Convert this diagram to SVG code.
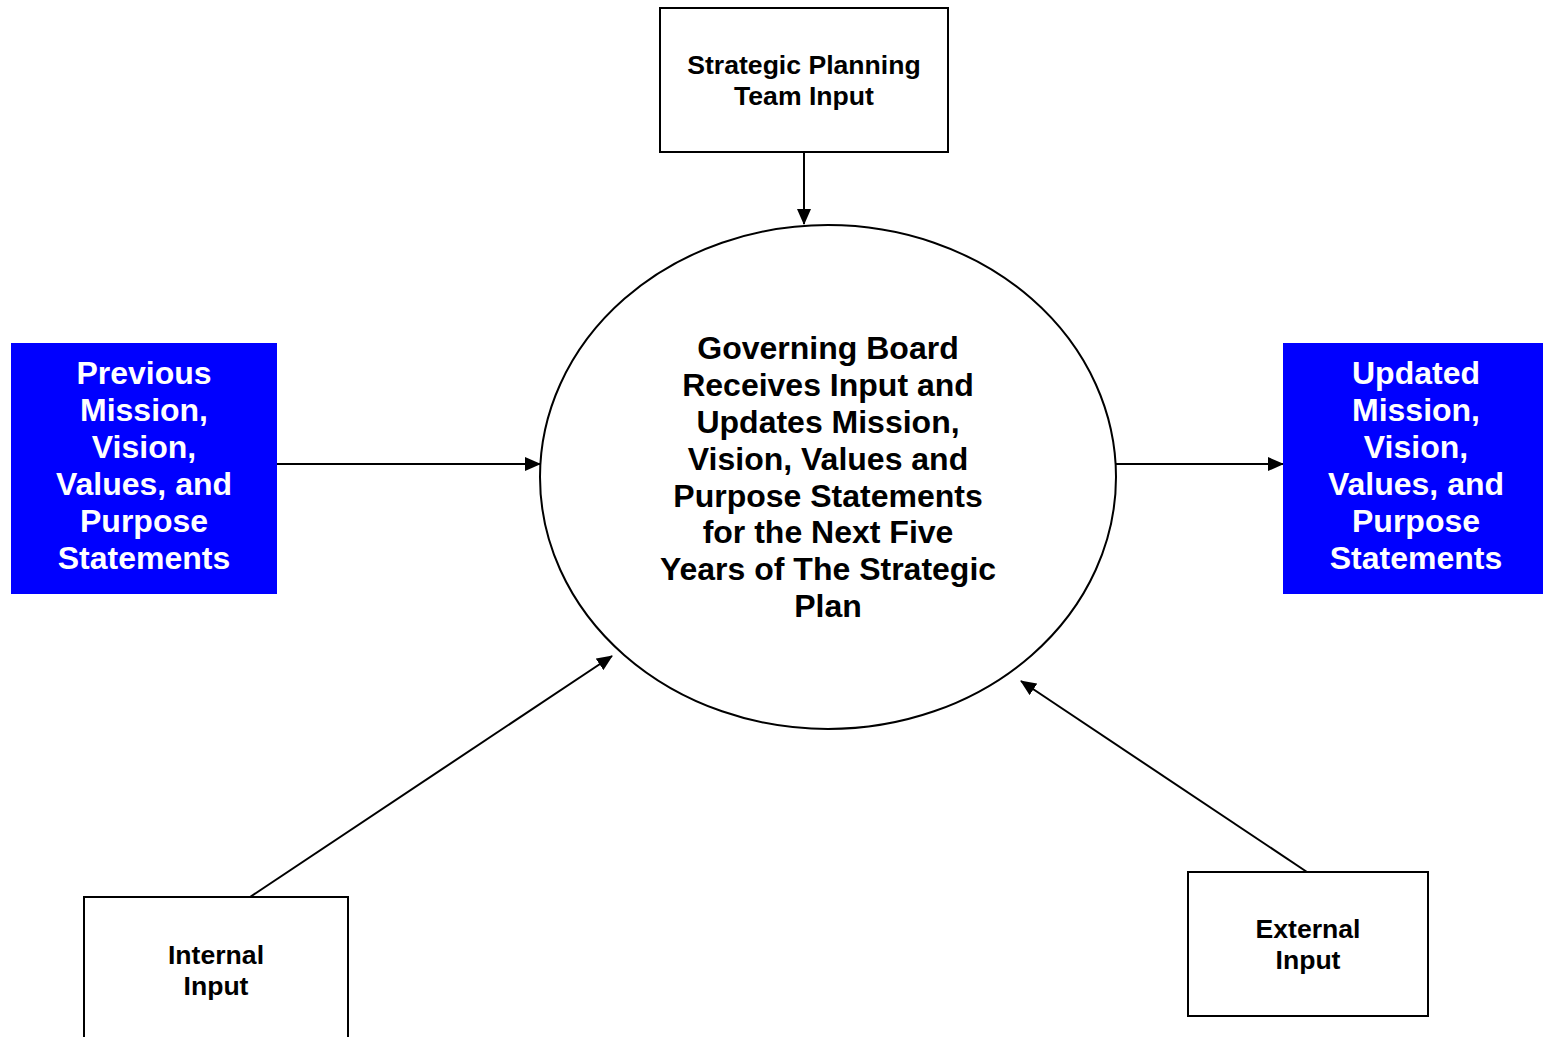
<svg xmlns="http://www.w3.org/2000/svg" width="1543" height="1037" viewBox="0 0 1543 1037">
<style>
.box{fill:#fff;stroke:#000;stroke-width:2}
.blue{fill:#0000ff;stroke:none}
.t{font-family:"Liberation Sans",Arial,sans-serif;font-weight:bold;text-anchor:middle}
.s{font-size:26.6px;fill:#000}
.b{font-size:32px;fill:#fff}
.e{font-size:32px;fill:#000}
.c{stroke:#000;stroke-width:2;fill:none;marker-end:url(#ah)}
</style>
<defs>
<marker id="ah" markerUnits="userSpaceOnUse" markerWidth="16" markerHeight="14" refX="15" refY="7" orient="auto">
<path d="M0,0 L16,7 L0,14 Z" fill="#000"/>
</marker>
</defs>
<rect width="1543" height="1037" fill="#fff"/>
<g id="connectors">
<line class="c" x1="804" y1="152" x2="804" y2="224"/>
<line class="c" x1="276" y1="464" x2="540" y2="464"/>
<line class="c" x1="1116" y1="464" x2="1283" y2="464"/>
<line class="c" x1="250" y1="897" x2="612" y2="656"/>
<line class="c" x1="1307" y1="872" x2="1021" y2="681"/>
</g>
<g id="strategic">
<rect class="box" x="660" y="8" width="288" height="144"/>
<text class="t s" x="804" y="74">Strategic Planning</text>
<text class="t s" x="804" y="105">Team Input</text>
</g>
<g id="board">
<ellipse cx="828" cy="477" rx="288" ry="252" fill="#fff" stroke="#000" stroke-width="2"/>
<text class="t e" x="828" y="359">Governing Board</text>
<text class="t e" x="828" y="396">Receives Input and</text>
<text class="t e" x="828" y="433">Updates Mission,</text>
<text class="t e" x="828" y="470">Vision, Values and</text>
<text class="t e" x="828" y="507">Purpose Statements</text>
<text class="t e" x="828" y="543">for the Next Five</text>
<text class="t e" x="828" y="580">Years of The Strategic</text>
<text class="t e" x="828" y="617">Plan</text>
</g>
<g id="previous">
<rect class="blue" x="11" y="343" width="266" height="251"/>
<text class="t b" x="144" y="384">Previous</text>
<text class="t b" x="144" y="421">Mission,</text>
<text class="t b" x="144" y="458">Vision,</text>
<text class="t b" x="144" y="495">Values, and</text>
<text class="t b" x="144" y="532">Purpose</text>
<text class="t b" x="144" y="569">Statements</text>
</g>
<g id="updated">
<rect class="blue" x="1283" y="343" width="260" height="251"/>
<text class="t b" x="1416" y="384">Updated</text>
<text class="t b" x="1416" y="421">Mission,</text>
<text class="t b" x="1416" y="458">Vision,</text>
<text class="t b" x="1416" y="495">Values, and</text>
<text class="t b" x="1416" y="532">Purpose</text>
<text class="t b" x="1416" y="569">Statements</text>
</g>
<g id="internal">
<rect class="box" x="84" y="897" width="264" height="150"/>
<text class="t s" x="216" y="964">Internal</text>
<text class="t s" x="216" y="995">Input</text>
</g>
<g id="external">
<rect class="box" x="1188" y="872" width="240" height="144"/>
<text class="t s" x="1308" y="938">External</text>
<text class="t s" x="1308" y="969">Input</text>
</g>
</svg>
